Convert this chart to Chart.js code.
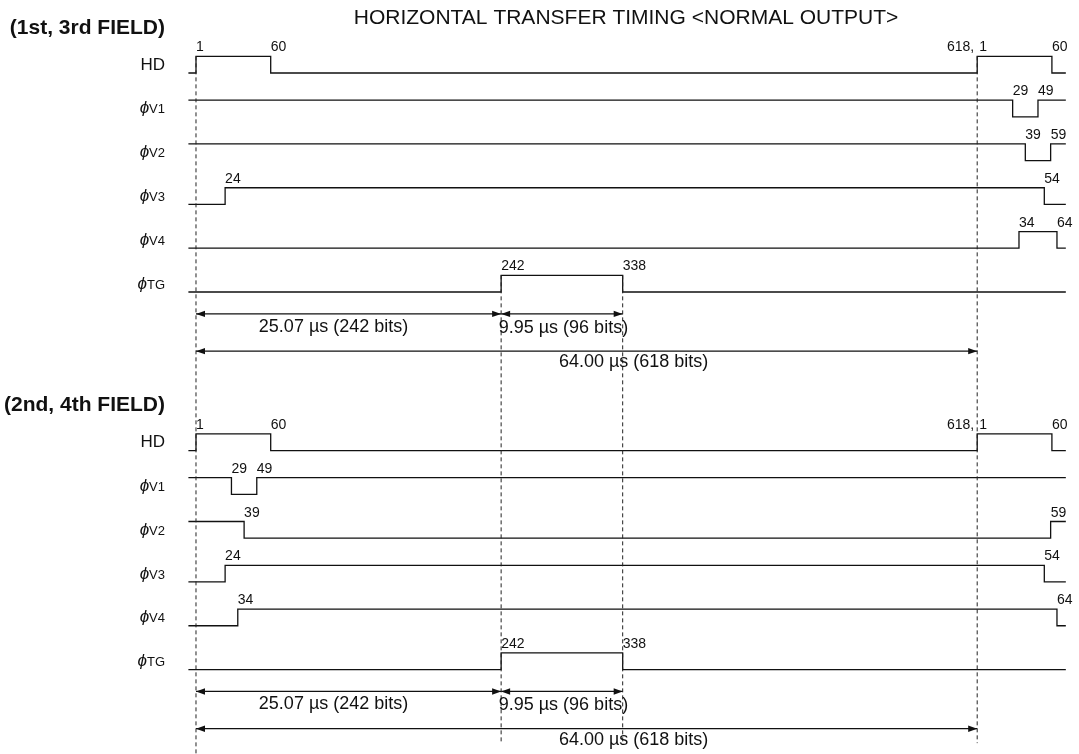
<!DOCTYPE html>
<html>
<head>
<meta charset="utf-8">
<title>Horizontal transfer timing</title>
<script src="https://cdn.jsdelivr.net/npm/chart.js@4/dist/chart.umd.min.js"></script>
<style>
  html, body { margin: 0; padding: 0; background: #fff; }
  #wrap { position: relative; width: 1079px; height: 754px; }
</style>
</head>
<body>
<div id="wrap"><canvas id="timing"></canvas></div>
<script>
// Values are bit numbers. Bits of the next line continue after 618 (n' = 617 + n).
const LINE_START = -5;
const LINE_END = 688;

const signalNames = ['HD', 'V1', 'V2', 'V3', 'V4', 'TG'];

// 1st, 3rd field
const field1Start = [0, 1, 1, 0, 0, 0];
const field1Edges = [[1, 60, 618, 677], [646, 666], [656, 676], [24, 671], [651, 681], [242, 338]];
const field1Labels = [['1', '60', '618, 1', '60'], ['29', '49'], ['39', '59'], ['24', '54'], ['34', '64'], ['242', '338']];

// 2nd, 4th field
const field2Start = [0, 1, 1, 0, 0, 0];
const field2Edges = [[1, 60, 618, 677], [29, 49], [39, 676], [24, 671], [34, 681], [242, 338]];
const field2Labels = [['1', '60', '618, 1', '60'], ['29', '49'], ['39', '59'], ['24', '54'], ['34', '64'], ['242', '338']];

// dashed reference lines and dimension arrows
const markerBits = [1, 242, 338, 618];
const dimFrom = [1, 242, 1];
const dimTo = [242, 338, 618];
const dimText = ['25.07 µs (242 bits)', '9.95 µs (96 bits)', '64.00 µs (618 bits)'];

// layout (row units: one signal row = 1)
const AMP = 0.38;
const Y_MIN = -1.6667, Y_MAX = 15.548;
const X_MIN = -153.8, X_MAX = 698.4;
const DIM_ROW = [0.5, 0.5, 1.35];
const DIM_DX = [-15, 1.5, 47];
const DIM_DY = [18, 19, 16];
const FONT = "'Liberation Sans', Arial, Helvetica, sans-serif";
const INK = '#111';

const fields = [
  { title: '(1st, 3rd FIELD)', row0: 0, start: field1Start, edges: field1Edges, labels: field1Labels },
  { title: '(2nd, 4th FIELD)', row0: 8.62, start: field2Start, edges: field2Edges, labels: field2Labels }
];

function wave(start, edges, row) {
  let lvl = start;
  const pts = [{ x: LINE_START, y: row - lvl * AMP }];
  edges.forEach(b => {
    lvl = 1 - lvl;
    pts.push({ x: b, y: row - lvl * AMP });
  });
  pts.push({ x: LINE_END, y: row - lvl * AMP });
  return pts;
}

const datasets = [];

// dashed verticals
markerBits.forEach(b => {
  const top = (b === 1 || b === 618) ? -AMP : 5 - AMP;
  const bottom = b === 1 ? Y_MAX : 15.3;
  datasets.push({
    data: [{ x: b, y: top }, { x: b, y: bottom }],
    borderColor: '#222', borderWidth: 1, borderDash: [4, 3], pointRadius: 0
  });
});

// waveforms
fields.forEach(f => {
  signalNames.forEach((name, i) => {
    datasets.push({
      data: wave(f.start[i], f.edges[i], f.row0 + i),
      stepped: true,
      borderColor: INK, borderWidth: 1.3, pointRadius: 0
    });
  });
  // dimension lines
  dimFrom.forEach((b, i) => {
    const r = f.row0 + 5 + DIM_ROW[i];
    datasets.push({
      data: [{ x: b, y: r }, { x: dimTo[i], y: r }],
      borderColor: INK, borderWidth: 1.2, pointRadius: 0
    });
  });
});

function arrowHead(ctx, tipX, y, dir) {
  ctx.beginPath();
  ctx.moveTo(tipX, y);
  ctx.lineTo(tipX - dir * 9, y - 3.2);
  ctx.lineTo(tipX - dir * 9, y + 3.2);
  ctx.closePath();
  ctx.fill();
}

const textPlugin = {
  id: 'timingText',
  afterDatasetsDraw(chart) {
    const { ctx, scales: { x, y } } = chart;
    ctx.save();
    ctx.fillStyle = INK;

    // title
    ctx.font = '21px ' + FONT;
    ctx.textAlign = 'center';
    ctx.textBaseline = 'alphabetic';
    ctx.fillText('HORIZONTAL TRANSFER TIMING <NORMAL OUTPUT>', 626, 23.5);

    fields.forEach(f => {
      // section title
      ctx.font = 'bold 21px ' + FONT;
      ctx.textAlign = 'right';
      ctx.fillText(f.title, 165, y.getPixelForValue(f.row0 - 0.9));

      signalNames.forEach((name, i) => {
        const row = f.row0 + i;
        const mid = y.getPixelForValue(row - AMP / 2) + 5;
        const high = y.getPixelForValue(row - AMP);
        ctx.textAlign = 'right';
        if (name === 'HD') {
          ctx.font = '17px ' + FONT;
          ctx.fillText(name, 165, mid);
        } else {
          ctx.font = '13px ' + FONT;
          const w = ctx.measureText(name).width;
          ctx.fillText(name, 165, mid);
          ctx.font = 'italic 17px ' + FONT;
          ctx.fillText('\u03d5', 165 - w, mid);
        }

        // edge numbers
        ctx.font = '14px ' + FONT;
        f.edges[i].forEach((b, k) => {
          const px = x.getPixelForValue(b);
          const txt = f.labels[i][k];
          if (txt.includes(',')) {
            const parts = txt.split(',');
            ctx.textAlign = 'right';
            ctx.fillText(parts[0] + ',', px - 3, high - 5);
            ctx.textAlign = 'left';
            ctx.fillText(parts[1].trim(), px + 2, high - 5);
          } else {
            ctx.textAlign = 'left';
            ctx.fillText(txt, px, high - 5);
          }
        });
      });

      // dimension arrows + text
      ctx.font = '18px ' + FONT;
      ctx.textAlign = 'center';
      dimFrom.forEach((b, i) => {
        const py = y.getPixelForValue(f.row0 + 5 + DIM_ROW[i]);
        const x0 = x.getPixelForValue(b);
        const x1 = x.getPixelForValue(dimTo[i]);
        arrowHead(ctx, x0, py, -1);
        arrowHead(ctx, x1, py, 1);
        ctx.fillText(dimText[i], (x0 + x1) / 2 + DIM_DX[i], py + DIM_DY[i]);
      });
    });
    ctx.restore();
  }
};

new Chart(document.getElementById('timing'), {
  type: 'line',
  data: { datasets },
  options: {
    responsive: true,
    maintainAspectRatio: false,
    animation: false,
    layout: { padding: 0 },
    plugins: { legend: { display: false }, tooltip: { enabled: false } },
    scales: {
      x: { type: 'linear', display: false, min: X_MIN, max: X_MAX },
      y: { type: 'linear', display: false, reverse: true, min: Y_MIN, max: Y_MAX }
    }
  },
  plugins: [textPlugin]
});
</script>
</body>
</html>
